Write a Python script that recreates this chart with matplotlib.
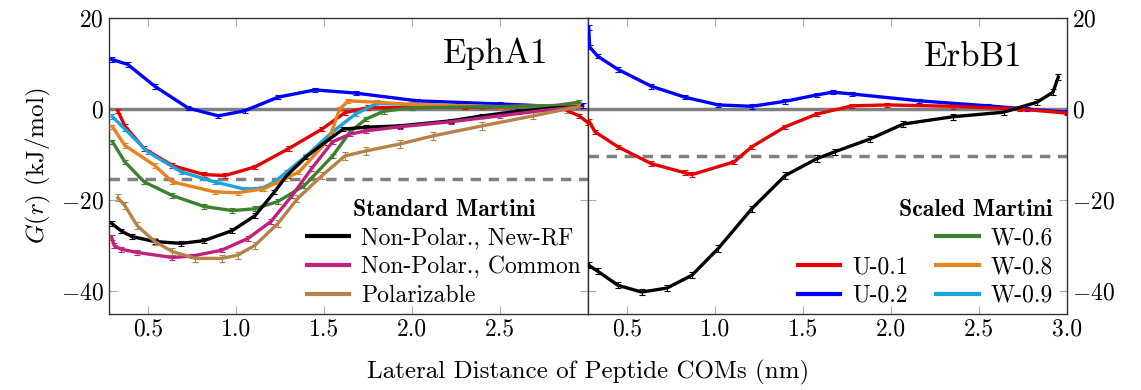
import numpy as np
import matplotlib
matplotlib.use("Agg")
import matplotlib.pyplot as plt
from matplotlib.lines import Line2D

plt.rcParams['font.family'] = 'cmr10'
plt.rcParams['mathtext.fontset'] = 'cm'
plt.rcParams['axes.formatter.use_mathtext'] = True

# ---- EphA1 (left panel) ----
eph_nprf_x = [0.295, 0.35, 0.41, 0.54, 0.69, 0.82, 0.98, 1.11, 1.22, 1.29, 1.40, 1.50, 1.61, 1.74, 1.93, 2.22, 2.40, 2.60, 2.80, 2.95]
eph_nprf_y = [-25.1, -26.8, -28.0, -29.1, -29.5, -28.9, -26.7, -23.4, -18.2, -14.6, -10.5, -7.5, -4.4, -4.0, -3.7, -2.6, -1.5, -0.5, 0.2, 0.5]

eph_npc_x = [0.295, 0.31, 0.35, 0.44, 0.64, 0.75, 0.92, 1.07, 1.20, 1.32, 1.43, 1.55, 1.65, 1.74, 1.93, 2.22, 2.50, 2.75, 2.95]
eph_npc_y = [-28.2, -30.0, -30.8, -31.5, -32.6, -32.3, -31.0, -28.4, -24.7, -19.0, -13.1, -7.2, -5.5, -4.8, -3.9, -2.8, -1.5, -0.3, 0.5]

eph_pol_x = [0.33, 0.37, 0.44, 0.54, 0.64, 0.77, 0.92, 1.01, 1.11, 1.24, 1.35, 1.49, 1.62, 1.74, 1.93, 2.12, 2.40, 2.69, 2.88, 2.95]
eph_pol_y = [-19.5, -21.2, -25.6, -29.1, -31.3, -32.8, -32.8, -32.1, -29.9, -25.1, -19.7, -14.6, -10.3, -9.2, -7.7, -5.9, -3.7, -1.5, 0.0, 0.5]

eph_u01_x = [0.33, 0.37, 0.48, 0.64, 0.82, 0.94, 1.11, 1.30, 1.49, 1.62, 1.75, 2.00, 2.30, 2.60, 2.85, 2.95, 3.00]
eph_u01_y = [-0.4, -3.7, -8.7, -12.4, -14.4, -14.6, -12.7, -8.7, -4.4, -0.8, 0.3, 0.3, 0.4, 0.3, 0.2, -1.5, -3.0]

eph_u02_x = [0.295, 0.386, 0.54, 0.73, 0.90, 1.05, 1.24, 1.45, 1.68, 2.03, 2.50, 2.80, 2.97]
eph_u02_y = [10.9, 9.8, 5.0, 0.2, -1.5, -0.4, 2.6, 4.2, 3.5, 1.8, 1.1, 0.6, 0.8]

eph_w06_x = [0.30, 0.37, 0.48, 0.64, 0.82, 0.98, 1.11, 1.24, 1.39, 1.55, 1.65, 1.74, 1.84, 2.00, 2.40, 2.80, 2.95]
eph_w06_y = [-7.2, -11.6, -16.0, -19.0, -21.4, -22.3, -21.9, -20.3, -16.8, -10.3, -5.0, -2.2, -0.5, 0.3, 0.5, 0.7, 1.5]

eph_w08_x = [0.30, 0.37, 0.54, 0.64, 0.88, 1.01, 1.16, 1.28, 1.36, 1.53, 1.59, 1.64, 1.80, 2.00, 2.50, 2.90, 2.95]
eph_w08_y = [-3.9, -8.0, -12.4, -16.0, -18.2, -18.4, -17.5, -15.3, -13.8, -6.6, 0.0, 1.8, 1.5, 1.0, 0.5, 0.8, 1.0]

eph_w09_x = [0.30, 0.37, 0.50, 0.69, 0.88, 1.05, 1.15, 1.22, 1.29, 1.40, 1.55, 1.68, 1.80, 2.00, 2.50, 2.95]
eph_w09_y = [-1.7, -4.4, -9.4, -13.8, -16.0, -17.6, -17.4, -16.0, -13.8, -10.3, -5.0, -1.1, 1.2, 1.0, 0.5, 0.3]

# ---- ErbB1 (right panel) ----
erb_u02_x = [0.284, 0.29, 0.335, 0.45, 0.64, 0.83, 1.02, 1.21, 1.40, 1.58, 1.67, 1.78, 2.16, 2.55, 2.77, 3.00]
erb_u02_y = [17.9, 13.6, 11.6, 8.7, 5.0, 2.6, 0.9, 0.6, 1.7, 3.1, 3.7, 3.3, 1.8, 0.7, 0.0, -0.7]

erb_u01_x = [0.285, 0.32, 0.45, 0.64, 0.83, 0.87, 1.11, 1.21, 1.40, 1.58, 1.78, 1.98, 2.35, 2.73, 3.00]
erb_u01_y = [-2.6, -5.0, -8.3, -12.0, -14.0, -14.4, -11.6, -8.3, -3.9, -1.1, 0.7, 0.9, 0.6, 0.0, -0.9]

erb_nprf_x = [0.284, 0.335, 0.45, 0.585, 0.73, 0.87, 1.02, 1.21, 1.40, 1.58, 1.68, 1.88, 2.07, 2.35, 2.64, 2.83, 2.92, 2.95]
erb_nprf_y = [-34.3, -35.6, -38.7, -40.2, -39.3, -36.5, -30.6, -21.9, -14.6, -10.9, -9.4, -6.6, -3.3, -1.7, -0.7, 1.5, 3.7, 7.0]

eph_ref = -15.3
erb_ref = -10.4

c_black = '#000000'
c_mag = '#c0207e'
c_tan = '#b5834a'
c_red = '#e60000'
c_blue = '#0000ff'
c_green = '#3f8030'
c_orange = '#e8821e'
c_cyan = '#1aa3dc'

fig = plt.figure(figsize=(11.41, 3.90), dpi=100)
ax1 = fig.add_axes([0.0955, 0.195, 0.4198, 0.759])
ax2 = fig.add_axes([0.5153, 0.195, 0.4199, 0.759])


def draw(ax, x, y, color, err=0.5):
    ax.errorbar(x, y, yerr=err, color=color, lw=2.4, elinewidth=0.8, capsize=2.5, capthick=0.8, zorder=3)


for ax, ref in ((ax1, eph_ref), (ax2, erb_ref)):
    ax.axhline(0, color='#808080', lw=2.5, zorder=2)
    ax.axhline(ref, color='#808080', lw=2.5, ls=(0, (3, 2.2)), zorder=2)

draw(ax1, eph_u02_x, eph_u02_y, c_blue)
draw(ax1, eph_u01_x, eph_u01_y, c_red)
draw(ax1, eph_w09_x, eph_w09_y, c_cyan)
draw(ax1, eph_w08_x, eph_w08_y, c_orange)
draw(ax1, eph_w06_x, eph_w06_y, c_green)
draw(ax1, eph_nprf_x, eph_nprf_y, c_black)
draw(ax1, eph_npc_x, eph_npc_y, c_mag)
draw(ax1, eph_pol_x, eph_pol_y, c_tan, 0.8)

draw(ax2, erb_u02_x, erb_u02_y, c_blue)
draw(ax2, erb_u01_x, erb_u01_y, c_red)
draw(ax2, erb_nprf_x, erb_nprf_y, c_black, 0.7)

for ax in (ax1, ax2):
    ax.set_xlim(0.28, 3.0)
    ax.set_ylim(-45, 20)
    ax.set_yticks([-40, -20, 0, 20])
    ax.tick_params(direction='in', top=True, right=True, left=True, labelsize=17,
                   color='#aaaaaa', length=6, width=0.8)
    for s in ax.spines.values():
        s.set_color('#333333')
        s.set_linewidth(1.0)

ax1.set_xticks([0.5, 1.0, 1.5, 2.0, 2.5])
ax2.set_xticks([0.5, 1.0, 1.5, 2.0, 2.5, 3.0])
ax2.tick_params(labelleft=False, labelright=True)
ax1.set_xticklabels(['0.5', '1.0', '1.5', '2.0', '2.5'])
ax2.set_xticklabels(['0.5', '1.0', '1.5', '2.0', '2.5', '3.0'])

ax1.set_ylabel(r'$G(r)$ (kJ/mol)', fontsize=18, labelpad=6)
fig.text(0.515, 0.03, 'Lateral Distance of Peptide COMs (nm)', ha='center', fontsize=18)

ax1.text(0.917, 0.88, 'EphA1', transform=ax1.transAxes, ha='right', va='center', fontsize=25)
ax2.text(0.908, 0.868, 'ErbB1', transform=ax2.transAxes, ha='right', va='center', fontsize=25)

bold = {'family': 'cmb10', 'size': 17}

h1 = [Line2D([], [], color=c, lw=3) for c in (c_black, c_mag, c_tan)]
leg1 = ax1.legend(h1, ['Non-Polar., New-RF', 'Non-Polar., Common', 'Polarizable'],
                  title='Standard Martini', title_fontproperties=bold,
                  loc='lower right', bbox_to_anchor=(1.0, 0.0), frameon=False, fontsize=17,
                  handlelength=1.8, handletextpad=0.5, labelspacing=0.28,
                  borderpad=0.2, borderaxespad=0.1)

blank = Line2D([], [], color='none')
h2 = [blank] + [Line2D([], [], color=c, lw=3) for c in (c_red, c_blue, c_green, c_orange, c_cyan)]
leg2 = ax2.legend(h2, ['', 'U-0.1', 'U-0.2', 'W-0.6', 'W-0.8', 'W-0.9'], ncol=2,
                  title='Scaled Martini', title_fontproperties=bold,
                  loc='lower right', bbox_to_anchor=(0.985, 0.0), frameon=False, fontsize=17,
                  handlelength=1.8, handletextpad=0.5, labelspacing=0.28, columnspacing=1.2,
                  borderpad=0.2, borderaxespad=0.1)
leg2._legend_box.align = 'right'

fig.savefig('out.png', dpi=100)
